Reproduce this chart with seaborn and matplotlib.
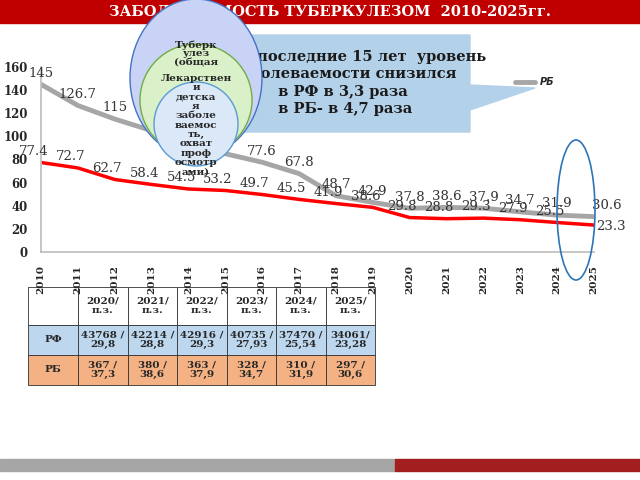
import matplotlib
matplotlib.use("Agg")
import matplotlib.pyplot as plt
import seaborn as sns
import pandas as pd
from matplotlib.patches import Rectangle, Ellipse, Polygon

years = list(range(2010, 2026))
rb = [145, 126.7, 115, 105, 95, 85, 77.6, 67.8, 48.7, 42.9, 37.8, 38.6, 37.9, 34.7, 31.9, 30.6]
rf = [77.4, 72.7, 62.7, 58.4, 54.5, 53.2, 49.7, 45.5, 41.9, 38.6, 29.8, 28.8, 29.3, 27.9, 25.5, 23.3]
rb_labels = ["145", "126.7", "115", "", "", "", "77.6", "67.8", "48.7", "42.9", "37.8", "38.6", "37.9", "34.7", "31.9", "30.6"]
rf_labels = ["77.4", "72.7", "62.7", "58.4", "54.5", "53.2", "49.7", "45.5", "41.9", "38.6", "29.8", "28.8", "29.3", "27.9", "25.5", "23.3"]
tbl_years = ["2020/\nп.з.", "2021/\nп.з.", "2022/\nп.з.", "2023/\nп.з.", "2024/\nп.з.", "2025/\nп.з."]
tbl_rf = ["43768 /\n29,8", "42214 /\n28,8", "42916 /\n29,3", "40735 /\n27,93", "37470 /\n25,54", "34061/\n23,28"]
tbl_rb = ["367 /\n37,3", "380 /\n38,6", "363 /\n37,9", "328 /\n34,7", "310 /\n31,9", "297 /\n30,6"]

sns.set_theme(style="white")
plt.rcParams['font.family'] = ['DejaVu Serif']

W, H = 640, 480
fig = plt.figure(figsize=(6.4, 4.8), dpi=100)
bg = fig.add_axes([0, 0, 1, 1])
bg.set_xlim(0, W); bg.set_ylim(H, 0); bg.axis("off")

bg.add_patch(Rectangle((0, 0), W, 23, color="#c00000"))
bg.text(330, 12, "ЗАБОЛЕВАЕМОСТЬ ТУБЕРКУЛЕЗОМ  2010-2025гг.", color="white",
        fontsize=10.5, fontweight="bold", ha="center", va="center")
bg.add_patch(Rectangle((0, 459), 395, 12, color="#a6a6a6"))
bg.add_patch(Rectangle((395, 459), 245, 12, color="#a31f1f"))

bg.add_patch(Polygon([(240, 35), (470, 35), (470, 85), (535, 88), (470, 110), (470, 132), (240, 132)],
                     closed=True, color="#b4d1ea", zorder=1))
bg.text(232, 50, "За последние 15 лет  уровень\nзаболеваемости снизился\n         в РФ в 3,3 раза\n         в РБ- в 4,7 раза",
        fontsize=10.5, fontweight="bold", va="top", color="#1a1a1a", linespacing=1.3, zorder=1)

ax = fig.add_axes([41/W, 1-252/H, 553/W, 185/H])
ax.patch.set_alpha(0)
df = pd.DataFrame({"year": years * 2, "val": rb + rf, "s": ["РБ"] * 16 + ["РФ"] * 16})
sns.lineplot(data=df, x="year", y="val", hue="s", palette={"РБ": "#a6a6a6", "РФ": "#ff0000"},
             ax=ax, legend=False, linewidth=3.5)
ax.lines[1].set_linewidth(2.5)
for x, y, t in zip(years, rb, rb_labels):
    dx = 0.35 if x == 2025 else 0
    ax.text(x + dx, y + 4, t, fontsize=9.5, ha="center", va="bottom", color="#333333")
for x, y, t in zip(years, rf, rf_labels):
    if x == 2025:
        ax.text(x + 0.45, y - 1, t, fontsize=9.5, ha="center", va="center", color="#333333")
    else:
        ax.text(x - 0.2, y + 4, t, fontsize=9.5, ha="center", va="bottom", color="#333333")
ax.set_xlim(2010, 2025); ax.set_ylim(0, 160)
ax.set_yticks(range(0, 161, 20))
ax.set_xticks(years)
ax.set_xticklabels([str(y) for y in years], rotation=90, fontsize=7.5, fontweight="bold")
ax.tick_params(axis="y", labelsize=8.5)
for lab in ax.get_yticklabels():
    lab.set_fontweight("bold")
ax.set_xlabel(""); ax.set_ylabel("")
for s in ["top", "right"]:
    ax.spines[s].set_visible(False)
for s in ["left", "bottom"]:
    ax.spines[s].set_color("#bfbfbf")
bg.plot([515, 535], [82, 82], color="#a6a6a6", lw=3.5)
bg.text(540, 82, "РБ", fontsize=7, fontstyle="italic", fontweight="bold", va="center", family="DejaVu Sans")

ov = fig.add_axes([0, 0, 1, 1]); ov.set_xlim(0, W); ov.set_ylim(H, 0); ov.axis("off")
ov.add_patch(Ellipse((196, 78), 132, 158, facecolor="#c9d3f5", edgecolor="#4472c4", lw=1))
ov.add_patch(Ellipse((196, 100), 112, 112, facecolor="#d9f0c8", edgecolor="#70ad47", lw=1))
ov.add_patch(Ellipse((196, 124), 84, 84, facecolor="#dbe8f8", edgecolor="#5b9bd5", lw=1))
ov.text(196, 40, "Туберк\nулез\n(общая", fontsize=7.5, fontweight="bold", ha="center", va="top", linespacing=1.0)
ov.text(196, 74, "Лекарствен\nи\nдетска\nя\nзаболе\nваемос\nть,\nохват\nпроф\nосмотр\nами)",
        fontsize=7.5, fontweight="bold", ha="center", va="top", linespacing=1.05)
ov.add_patch(Ellipse((576, 210), 38, 140, facecolor="none", edgecolor="#2e75b6", lw=1.2))

x0, cw0, cw = 28, 50, 49.5
ys = [287, 325, 355, 385]
fills = ["white", "#bdd7ee", "#f4b183"]
rows = [[""] + tbl_years, ["РФ"] + tbl_rf, ["РБ"] + tbl_rb]
for r in range(3):
    for c in range(7):
        xl = x0 if c == 0 else x0 + cw0 + (c - 1) * cw
        w = cw0 if c == 0 else cw
        bg.add_patch(Rectangle((xl, ys[r]), w, ys[r+1] - ys[r], facecolor=fills[r], edgecolor="#333333", lw=0.6))
        bg.text(xl + w / 2, (ys[r] + ys[r+1]) / 2, rows[r][c], fontsize=7.5, fontweight="bold",
                ha="center", va="center", linespacing=1.1)

fig.savefig("out.png", dpi=100)
